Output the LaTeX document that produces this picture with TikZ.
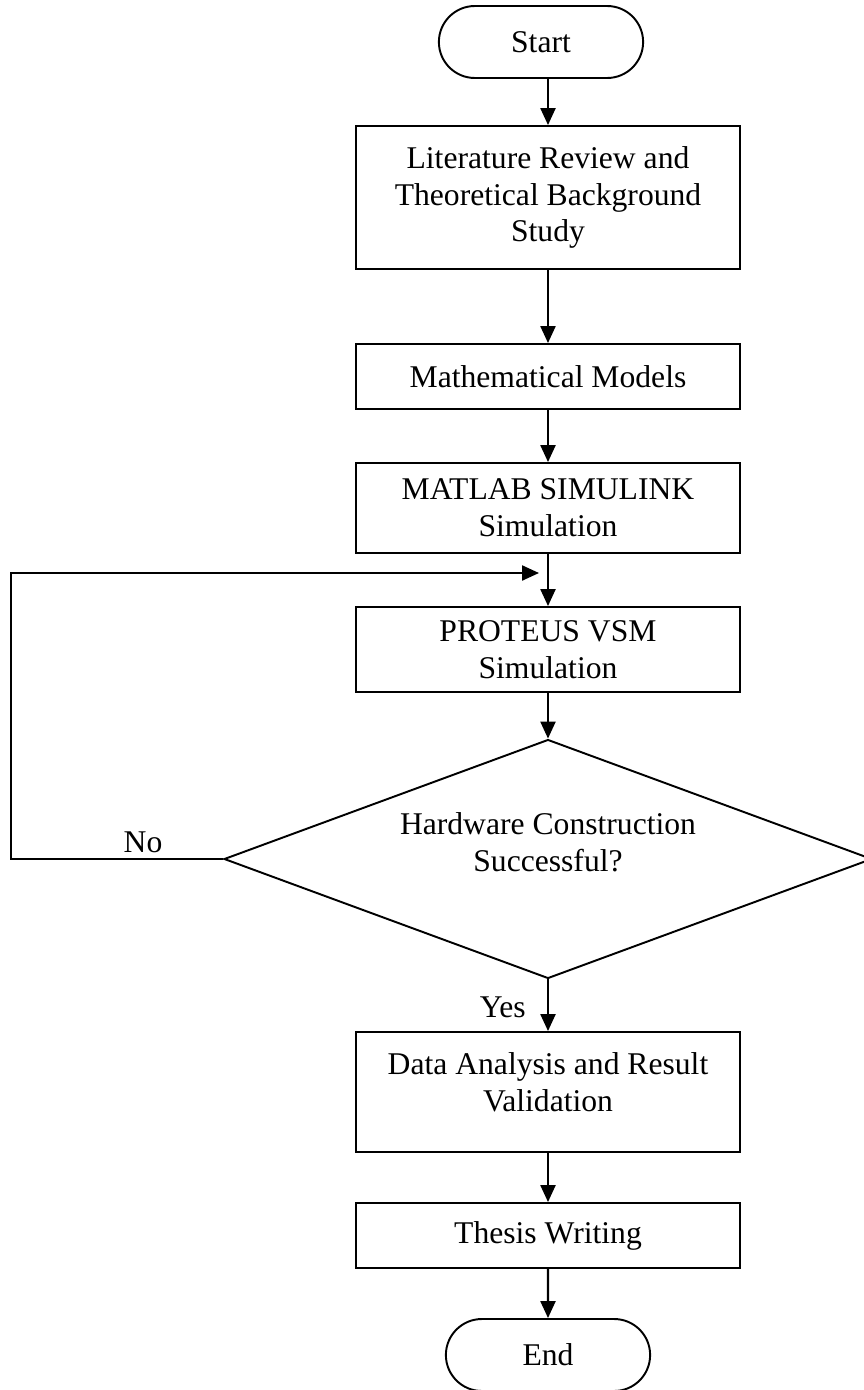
\documentclass[tikz,border=0pt]{standalone}
\usepackage{fontspec}
\setmainfont{Liberation Serif}
\usetikzlibrary{arrows.meta,shapes.geometric,shapes.misc}
\begin{document}
\begin{tikzpicture}[x=.02cm, y=-.02cm, >={Triangle[length=.34cm, width=.3cm]},
    font=\fontsize{18}{21}\selectfont,
    box/.style={draw, line width=1.1pt, minimum width=7.68cm, align=center},
    term/.style={draw, line width=1.1pt, rounded rectangle, minimum width=4.32cm, minimum height=1.44cm},
    link/.style={line width=1.3pt}]
\useasboundingbox (0,0) rectangle (864,1390);
\node[term] (start) at (541,42) {Start};
\node[box, minimum height=2.86cm] (lit) at (548,197.5) {Literature Review and\\Theoretical Background\\Study};
\node[box, minimum height=1.3cm] (math) at (548,376.5) {Mathematical Models};
\node[box, minimum height=1.8cm] (matlab) at (548,508) {MATLAB SIMULINK\\Simulation};
\node[box, minimum height=1.7cm] (proteus) at (548,649.5) {PROTEUS VSM\\Simulation};
\node[draw, diamond, line width=1.1pt, minimum width=12.96cm, minimum height=4.78cm, inner sep=0pt] (hw) at (548,859) {};
\node[align=center] (hwtext) at (548,842) {Hardware Construction\\Successful?};
\node[box, minimum height=2.4cm] (data) at (548,1092) {};
\node[align=center] (datatext) at (548,1082) {Data Analysis and Result\\Validation};
\node[box, minimum height=1.3cm] (thesis) at (548,1235.5) {Thesis Writing};
\node[term] (stop) at (548,1355) {End};
\node[anchor=base] (no) at (143,852) {No};
\node[anchor=east] (yes) at (532,1007) {Yes};
\coordinate (loop) at (11,859);
\coordinate (join) at (539,573);
\draw[link, ->] (lit.north |- start.south) -- (lit);
\foreach \a/\b in {lit/math, math/matlab, matlab/proteus, proteus/hw, hw/data, data/thesis, thesis/stop}
{
    \draw[link, ->] (\a) -- (\b);
}
\draw[link, ->] (hw.west) -- (loop) |- (join);
\end{tikzpicture}
\end{document}
